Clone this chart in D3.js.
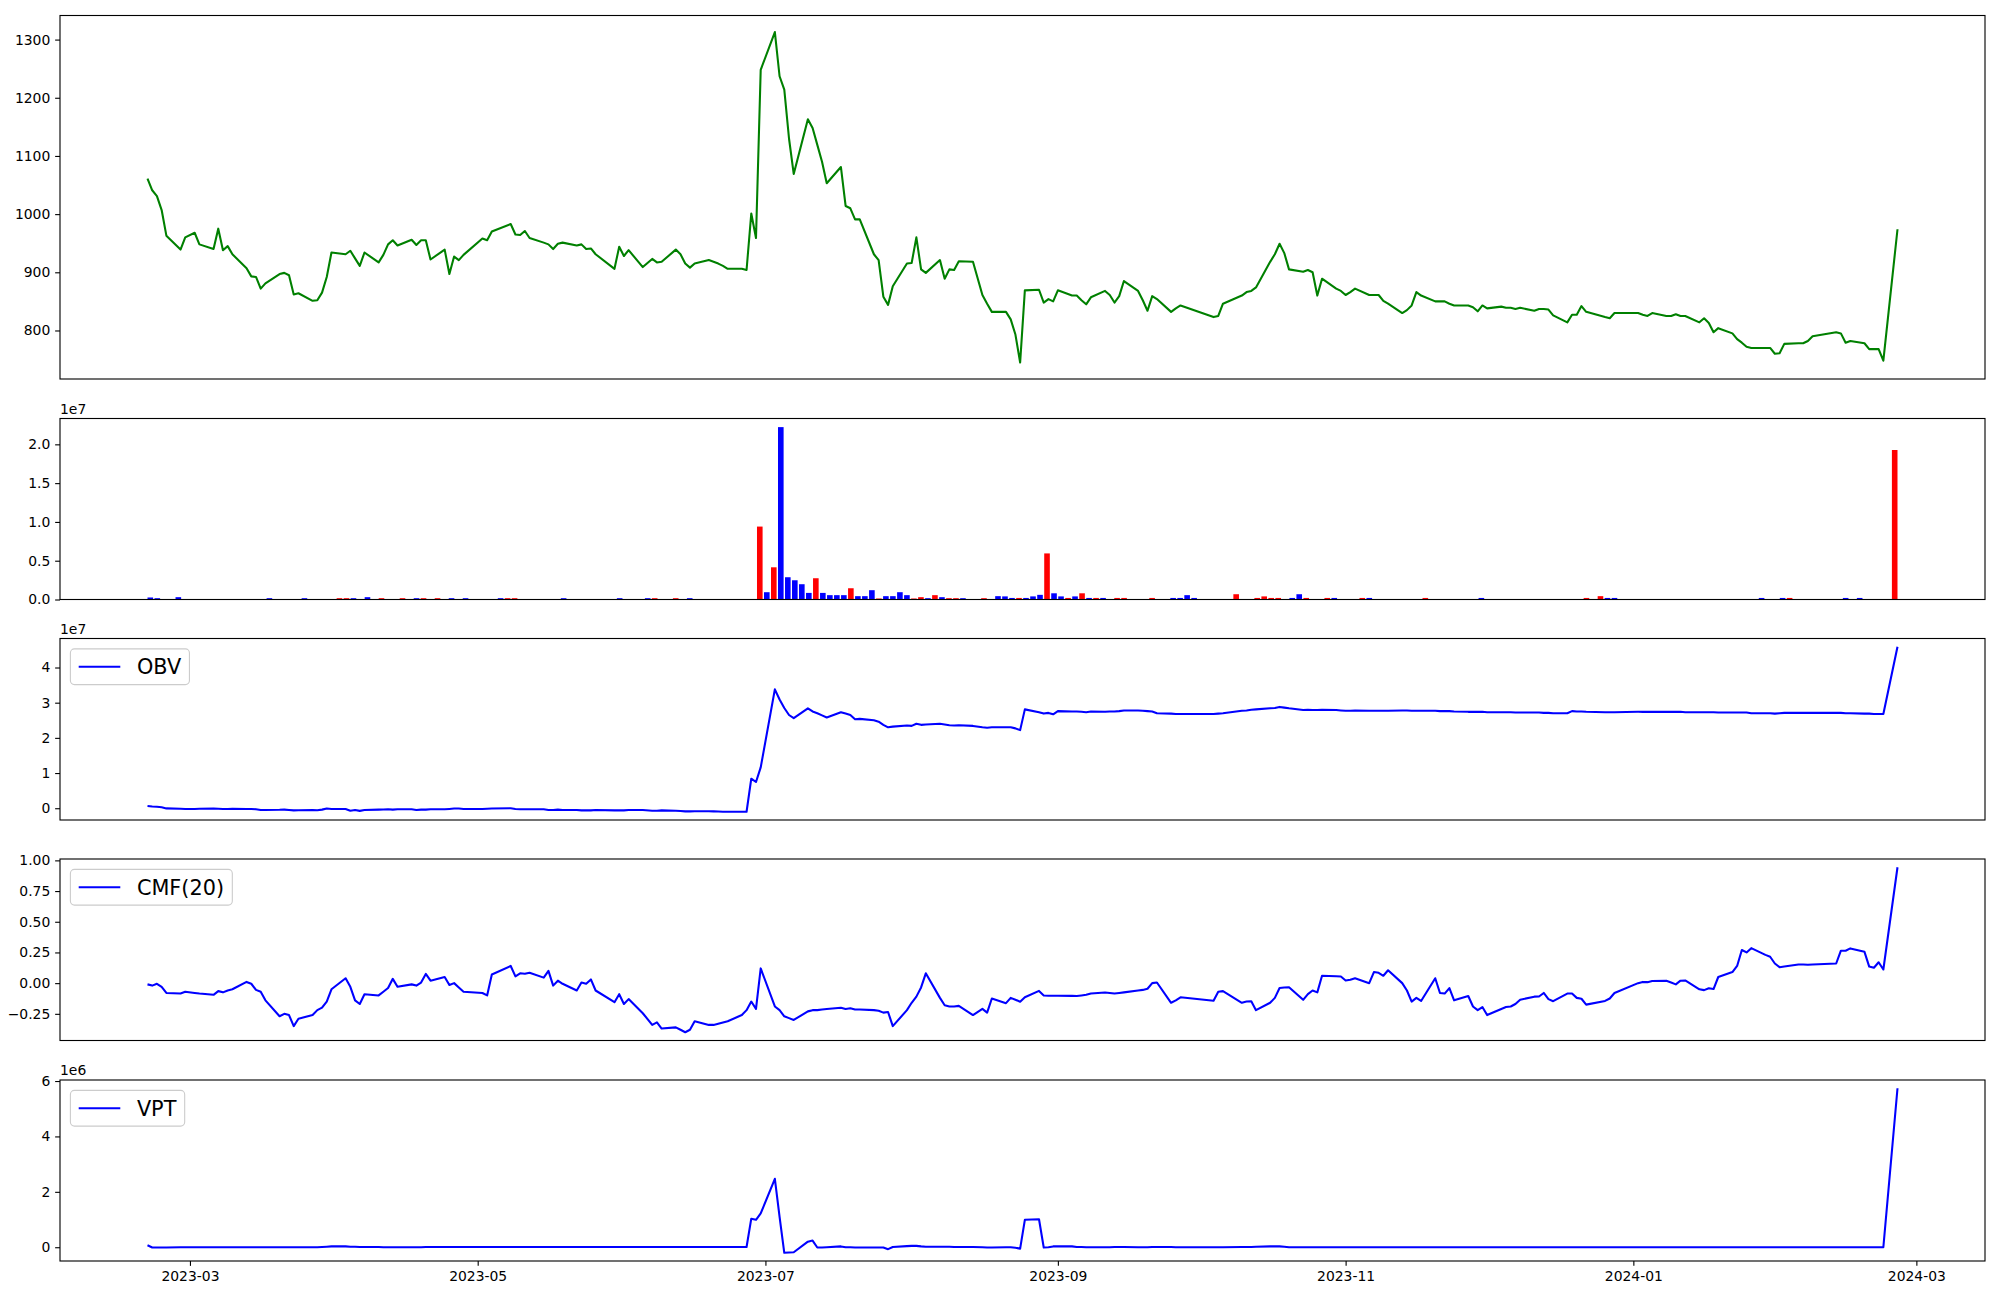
<!DOCTYPE html>
<html><head><meta charset="utf-8">
<script src="https://cdn.jsdelivr.net/npm/d3@7"></script>
<style>
body{margin:0;background:#fff}
svg{display:block}
text{font-family:"DejaVu Sans",sans-serif;fill:#000}
</style></head>
<body><svg id="chart" width="2000" height="1300"></svg>
<script>
// ---------------- DATA ----------------
const startDay = "2023-02-20";
const endDay = "2024-02-26";
const holidays = ["2023-03-01","2023-05-01","2023-05-05","2023-05-29","2023-06-06","2023-08-15",
  "2023-09-28","2023-09-29","2023-10-02","2023-10-03","2023-10-09","2023-12-25","2023-12-29",
  "2024-01-01","2024-02-09","2024-02-12"];

const price = [
1061,1041,1031,1007,963,939,960,968,948,940,
975,938,945,931,907,893,892,872,881,897,
899,895,862,864,851,852,865,892,934,931,
937,924,911,934,917,930,948,955,946,956,
947,955,955,922,939,897,927,921,930,958,
955,970,983,965,964,971,959,951,948,940,
949,951,946,948,940,941,931,906,944,928,
938,909,923,917,918,939,931,915,908,915,
921,918,915,911,906,906,904,1001,959,1248,
1313,1237,1214,1130,1069,1163,1148,1119,1090,1053,
1081,1014,1010,991,991,931,921,858,844,876,
915,916,960,905,899,921,889,905,904,919,
918,861,846,832,832,819,793,745,869,870,
848,854,850,869,860,860,852,845,857,868,
861,848,859,885,868,852,834,859,854,832,
838,843,823,825,846,860,866,868,874,918,
931,949,933,905,901,904,900,860,889,872,
868,861,866,872,861,861,861,851,846,830,
835,843,866,860,850,850,850,846,843,843,
840,833,843,838,841,839,839,837,839,834,
837,837,836,826,814,827,827,842,832,823,
821,830,830,827,825,830,825,825,828,825,
825,814,821,813,797,804,795,785,779,772,
770,770,770,760,761,777,778,778,782,790,
797,795,779,782,778,768,768,768,748,974];

const volume = [
260000,170000,0,0,300000,0,0,0,0,0,
0,0,0,0,0,0,0,170000,0,0,
0,0,170000,0,0,0,0,170000,170000,170000,
0,300000,0,170000,0,0,170000,0,170000,170000,
0,170000,0,170000,0,170000,0,0,0,0,
170000,170000,170000,0,0,0,0,0,0,170000,
0,0,0,0,0,0,0,170000,0,0,
0,170000,170000,0,0,170000,0,170000,0,0,
0,0,0,0,0,0,0,9400000,940000,4150000,
22220000,2870000,2480000,1970000,850000,2740000,850000,560000,560000,560000,
1450000,430000,430000,1200000,130000,430000,430000,940000,560000,130000,
300000,170000,560000,300000,170000,170000,170000,0,0,170000,
0,430000,400000,200000,200000,200000,400000,600000,5940000,800000,
400000,200000,400000,800000,200000,200000,200000,0,200000,200000,
0,0,0,200000,0,0,200000,200000,560000,200000,
0,0,0,0,0,680000,0,0,200000,400000,
200000,200000,0,200000,680000,200000,0,0,200000,200000,
0,0,0,200000,200000,0,0,0,0,0,
0,0,200000,0,0,0,0,0,0,0,
200000,0,0,0,0,0,0,0,0,0,
0,0,0,0,0,200000,0,430000,200000,200000,
0,0,0,0,0,0,0,0,0,0,
0,0,0,0,0,0,0,0,0,0,
200000,0,0,200000,200000,0,0,0,0,0,
0,0,200000,0,200000,0,0,0,0,19270000];

// 1 = red (up) bar, 0 = blue (down) bar
const barUp = [
0,0,0,0,0,0,0,0,0,0, 0,0,0,0,0,0,0,0,0,0, 0,0,0,0,0,0,0,1,1,0, 0,0,0,1,0,0,1,0,0,1,
0,1,0,0,0,0,0,0,0,0, 0,1,1,0,0,0,0,0,0,0, 0,0,0,0,0,0,0,0,0,0, 0,0,1,0,0,1,0,0,0,0,
0,0,0,0,0,0,0,1,0,1, 0,0,0,0,0,1,0,0,0,0, 1,0,0,0,1,0,0,0,0,1, 1,0,1,0,1,1,0,0,0,1,
0,0,0,0,1,0,0,0,1,0, 0,1,0,1,0,1,0,0,1,1, 0,0,0,1,0,0,0,0,0,0, 0,0,0,0,0,1,0,0,1,1,
1,1,0,0,0,1,0,0,1,0, 0,0,0,1,0,0,0,0,0,0, 0,0,1,0,0,0,0,0,0,0, 0,0,0,0,0,0,0,0,0,0,
0,0,0,0,0,1,0,1,0,0, 0,0,0,0,0,0,0,0,0,0, 0,0,0,0,0,0,0,0,0,0, 0,0,0,0,1,0,0,0,0,0,
0,0,0,0,0,0,0,0,0,1];

// OBV in units of 1e7
const obvE7 = [
0.066,0.05,0.04,0.03,-0.005,-0.015,-0.02,-0.02,-0.015,-0.01,
-0.015,-0.02,-0.02,-0.015,-0.02,-0.02,-0.03,-0.05,-0.05,-0.045,
-0.04,-0.05,-0.06,-0.055,-0.05,-0.055,-0.04,-0.01,-0.02,-0.02,
-0.07,-0.05,-0.075,-0.05,-0.04,-0.035,-0.03,-0.04,-0.03,-0.03,
-0.05,-0.04,-0.04,-0.03,-0.03,-0.02,-0.01,-0.01,-0.02,-0.02,
-0.015,-0.01,0.0,-0.02,-0.03,-0.03,-0.03,-0.03,-0.05,-0.05,
-0.04,-0.05,-0.05,-0.06,-0.06,-0.06,-0.05,-0.06,-0.06,-0.06,
-0.05,-0.05,-0.07,-0.07,-0.06,-0.07,-0.08,-0.09,-0.09,-0.085,
-0.085,-0.09,-0.095,-0.10,-0.10,-0.10,-0.10,0.84,0.746,1.16,
3.38,3.09,2.85,2.65,2.56,2.84,2.75,2.70,2.64,2.58,
2.73,2.69,2.65,2.53,2.54,2.50,2.46,2.37,2.30,2.32,
2.35,2.34,2.40,2.37,2.38,2.40,2.38,2.36,2.35,2.36,
2.34,2.30,2.29,2.30,2.30,2.30,2.27,2.22,2.81,2.73,
2.69,2.71,2.67,2.76,2.75,2.75,2.74,2.73,2.75,2.74,
2.75,2.75,2.76,2.78,2.78,2.77,2.76,2.75,2.70,2.69,
2.68,2.68,2.68,2.69,2.70,2.77,2.78,2.80,2.81,2.84,
2.85,2.88,2.86,2.84,2.79,2.80,2.79,2.79,2.80,2.79,
2.78,2.77,2.77,2.78,2.77,2.77,2.77,2.77,2.77,2.78,
2.78,2.77,2.77,2.77,2.77,2.76,2.76,2.76,2.75,2.74,
2.74,2.74,2.74,2.73,2.73,2.73,2.73,2.72,2.72,2.72,
2.72,2.71,2.71,2.70,2.70,2.76,2.75,2.75,2.74,2.73,
2.73,2.73,2.74,2.74,2.74,2.74,2.74,2.74,2.74,2.74,
2.73,2.73,2.73,2.73,2.73,2.72,2.72,2.72,2.72,2.72,
2.70,2.70,2.70,2.69,2.70,2.71,2.71,2.71,2.71,2.71,
2.71,2.71,2.70,2.70,2.69,2.69,2.68,2.68,2.68,4.59];

const cmf20 = [
-0.01,-0.02,-0.005,-0.03,-0.08,-0.085,-0.07,-0.08,-0.085,-0.095,
-0.065,-0.075,-0.06,-0.05,0.01,-0.005,-0.055,-0.07,-0.14,-0.27,
-0.25,-0.26,-0.35,-0.29,-0.26,-0.22,-0.2,-0.15,-0.05,0.04,
-0.03,-0.14,-0.17,-0.09,-0.1,-0.07,-0.04,0.035,-0.03,-0.01,
-0.02,0.005,0.075,0.02,0.05,-0.015,0.0,-0.035,-0.07,-0.08,
-0.1,0.07,0.14,0.055,0.08,0.076,0.085,0.045,0.1,-0.02,
0.02,-0.005,-0.06,0.005,-0.005,0.03,-0.06,-0.155,-0.09,-0.17,
-0.13,-0.245,-0.34,-0.32,-0.37,-0.36,-0.38,-0.4,-0.38,-0.31,
-0.34,-0.34,-0.33,-0.32,-0.31,-0.26,-0.22,-0.15,-0.21,0.12,
-0.19,-0.22,-0.27,-0.285,-0.3,-0.23,-0.22,-0.22,-0.215,-0.21,
-0.2,-0.21,-0.205,-0.215,-0.215,-0.22,-0.225,-0.24,-0.235,-0.35,
-0.22,-0.16,-0.11,-0.035,0.08,-0.12,-0.18,-0.19,-0.19,-0.185,
-0.26,-0.21,-0.24,-0.125,-0.163,-0.12,-0.135,-0.152,-0.115,-0.063,
-0.1,-0.103,-0.103,-0.103,-0.104,-0.105,-0.1,-0.095,-0.085,-0.076,
-0.08,-0.085,-0.08,-0.075,-0.06,-0.055,-0.046,0.0,0.005,-0.16,
-0.14,-0.115,-0.144,-0.07,-0.065,-0.16,-0.15,-0.148,-0.22,-0.16,
-0.12,-0.04,-0.035,-0.033,-0.136,-0.09,-0.06,-0.075,0.06,0.056,
0.054,0.022,0.027,0.04,0.0,0.09,0.084,0.06,0.105,0.0,
-0.06,-0.15,-0.12,-0.145,0.04,-0.08,-0.085,-0.04,-0.14,-0.105,
-0.19,-0.22,-0.195,-0.26,-0.21,-0.195,-0.19,-0.17,-0.135,-0.11,
-0.109,-0.08,-0.13,-0.147,-0.085,-0.085,-0.12,-0.127,-0.175,-0.145,
-0.125,-0.08,0.0,0.01,0.008,0.018,0.019,0.005,-0.01,0.02,
0.022,-0.05,-0.057,-0.041,-0.048,0.05,0.09,0.14,0.27,0.25,
0.285,0.23,0.215,0.16,0.13,0.135,0.152,0.152,0.15,0.152,
0.16,0.264,0.264,0.283,0.255,0.135,0.125,0.17,0.111,0.944];

// VPT in units of 1e6
const vptE6 = [
0.07,-0.01,-0.01,-0.01,-0.01,0,0,0,0,0,
0,0,0,0,0,0,0,0,0,0,
0,0,0,0,0,0,0.01,0.02,0.03,0.03,
0.02,0.02,0.01,0.01,0.01,0,0,0,0,0,
0,0,0.01,0.01,0.01,0.01,0.01,0.01,0.01,0.01,
0.01,0.01,0.01,0.01,0.01,0.01,0.01,0.01,0.01,0.01,
0.01,0.01,0.01,0.01,0.01,0.01,0.01,0.01,0.01,0.01,
0.01,0.01,0.01,0.01,0.01,0.01,0.01,0.01,0.01,0.01,
0.01,0.01,0.01,0.01,0.01,0.01,0.01,1.03,0.99,1.22,
2.47,1.10,-0.20,-0.19,-0.18,0.20,0.24,-0.01,-0.01,0.0,
0.03,0.0,0.0,-0.01,-0.01,-0.01,-0.01,-0.01,-0.07,0.01,
0.04,0.05,0.05,0.03,0.02,0.02,0.02,0.02,0.01,0.01,
0.01,0.0,-0.01,-0.01,0.0,0.0,-0.02,-0.05,0.99,1.01,
-0.01,0.0,0.03,0.03,0.03,0.01,0.01,0.0,0.0,0.0,
0.0,0.01,0.01,0.01,0.0,0.0,0.0,0.01,0.01,0.01,
0.0,0.0,0.0,0.0,0.0,0.01,0.01,0.01,0.02,0.03,
0.03,0.03,0.02,0.0,0.0,0.0,0.0,0.0,0.0,0.0,
0,0,0,0,0,0,0,0,0,0,
0,0,0,0,0,0,0,0,0,0,
0,0,0,0,0,0,0,0,0,0,
0,0,0,0,0,0,0,0,0,0,
0,0,0,0,0,0,0,0,0,0,
0,0,0,0,0,0,0,0,0,0,
0,0,0,0,0,0,0,0,0,0,
0,0,0,0,0,0,0,0,0,5.74];

const xTickLabels = ["2023-03","2023-05","2023-07","2023-09","2023-11","2024-01","2024-03"];
const priceTicks = [800,900,1000,1100,1200,1300];
const volTicks = [0,0.5e7,1e7,1.5e7,2e7];
const obvTicks = [0,1,2,3,4];
const cmfTicks = [-0.25,0,0.25,0.5,0.75,1.0];
const vptTicks = [0,2,4,6];

// ---------------- LAYOUT ----------------
const X0 = 60, X1 = 1985;
const P = {
  price: [15.5, 379],
  vol:   [418.5, 599.5],
  obv:   [638.5, 820],
  cmf:   [859, 1040.5],
  vpt:   [1080, 1261]
};
const FS = 13.9, TICK = 4.86, LW = 2.08, AXW = 1.11, LEGFS = 20.8;
const GREEN = "#008000", BLUE = "#0000ff", RED = "#ff0000";

const svg = d3.select("#chart");
const parse = d3.utcParse("%Y-%m-%d");
const fmt = d3.utcFormat("%Y-%m-%d");

function tradingDays(start, end, hol) {
  const hs = new Set(hol), out = [];
  for (let d = parse(start); d <= parse(end); d = d3.utcDay.offset(d, 1)) {
    const wd = d.getUTCDay();
    if (wd !== 0 && wd !== 6 && !hs.has(fmt(d))) out.push(d);
  }
  return out;
}
const dates = tradingDays(startDay, endDay, holidays);
const N = dates.length;

const t0 = +dates[0], t1 = +dates[N - 1], span = t1 - t0;
const x = d3.scaleUtc().domain([new Date(t0 - 0.05 * span), new Date(t1 + 0.05 * span)]).range([X0, X1]);

const lo = -0.4, hi = N - 1 + 0.4, pr = hi - lo;
const xi = d3.scaleLinear().domain([lo - 0.05 * pr, hi + 0.05 * pr]).range([X0, X1]);

function padded(vals) {
  const [a, b] = d3.extent(vals); const r = b - a;
  return [a - 0.05 * r, b + 0.05 * r];
}

function yAxis(y, ticks, f) {
  const g = svg.append("g").attr("transform", `translate(${X0},0)`)
    .call(d3.axisLeft(y).tickValues(ticks).tickFormat(f).tickSize(TICK).tickPadding(TICK));
  g.select(".domain").remove();
  g.selectAll(".tick line").attr("stroke", "#000").attr("stroke-width", AXW);
  g.selectAll(".tick text").attr("font-size", FS).attr("font-family", "DejaVu Sans").attr("fill", "#000");
  return g;
}
function frame(p) {
  svg.append("rect").attr("x", X0).attr("y", p[0]).attr("width", X1 - X0).attr("height", p[1] - p[0])
    .attr("fill", "none").attr("stroke", "#000").attr("stroke-width", AXW);
}
function offsetText(p, s) {
  svg.append("text").attr("x", X0).attr("y", p[0] - 5).attr("font-size", FS).text(s);
}
function drawLine(vals, y, color) {
  svg.append("path").datum(vals)
    .attr("fill", "none").attr("stroke", color).attr("stroke-width", LW)
    .attr("stroke-linejoin", "round")
    .attr("d", d3.line().x((d, i) => x(dates[i])).y(d => y(d)));
}
function legend(p, label) {
  const g = svg.append("g");
  const bx = X0 + 10.4, by = p[0] + 10.4, pad = 8.3, hl = 41.6, tp = 16.6, bh = 35.7;
  const rect = g.append("rect").attr("x", bx).attr("y", by).attr("height", bh).attr("rx", 4)
    .attr("fill", "#fff").attr("fill-opacity", 0.8).attr("stroke", "#cccccc").attr("stroke-width", AXW);
  const cy = by + bh / 2;
  g.append("line").attr("x1", bx + pad).attr("x2", bx + pad + hl).attr("y1", cy).attr("y2", cy)
    .attr("stroke", BLUE).attr("stroke-width", LW);
  const t = g.append("text").attr("x", bx + pad + hl + tp).attr("y", cy + 7.3)
    .attr("font-size", LEGFS).text(label);
  const tw = t.node().getComputedTextLength();
  rect.attr("width", pad + hl + tp + tw + pad);
}

// ---- Panel 1: price ----
const yP = d3.scaleLinear().domain(padded(price)).range([P.price[1], P.price[0]]);
drawLine(price, yP, GREEN);
yAxis(yP, priceTicks, d => d);
frame(P.price);

// ---- Panel 2: volume (index based) ----
const yV = d3.scaleLinear().domain([0, d3.max(volume) * 1.05]).range([P.vol[1], P.vol[0]]);
svg.append("g").selectAll("rect").data(volume).join("rect")
  .attr("x", (d, i) => xi(i - 0.4))
  .attr("width", (d, i) => xi(i + 0.4) - xi(i - 0.4))
  .attr("y", d => yV(d))
  .attr("height", d => yV(0) - yV(d))
  .attr("fill", (d, i) => barUp[i] ? RED : BLUE);
yAxis(yV, volTicks, d => (d / 1e7).toFixed(1));
frame(P.vol);
offsetText(P.vol, "1e7");

// ---- Panel 3: OBV ----
const yO = d3.scaleLinear().domain(padded(obvE7)).range([P.obv[1], P.obv[0]]);
drawLine(obvE7, yO, BLUE);
yAxis(yO, obvTicks, d => d);
frame(P.obv);
offsetText(P.obv, "1e7");
legend(P.obv, "OBV");

// ---- Panel 4: CMF ----
const yC = d3.scaleLinear().domain(padded(cmf20)).range([P.cmf[1], P.cmf[0]]);
drawLine(cmf20, yC, BLUE);
yAxis(yC, cmfTicks, d => (d < 0 ? "\u2212" : "") + Math.abs(d).toFixed(2));
frame(P.cmf);
legend(P.cmf, "CMF(20)");

// ---- Panel 5: VPT ----
const yT = d3.scaleLinear().domain(padded(vptE6)).range([P.vpt[1], P.vpt[0]]);
drawLine(vptE6, yT, BLUE);
yAxis(yT, vptTicks, d => d);
frame(P.vpt);
offsetText(P.vpt, "1e6");
legend(P.vpt, "VPT");

// x axis
const xTicks = xTickLabels.map(s => parse(s + "-01"));
const gx = svg.append("g").attr("transform", `translate(0,${P.vpt[1]})`)
  .call(d3.axisBottom(x).tickValues(xTicks).tickFormat(d3.utcFormat("%Y-%m")).tickSize(TICK).tickPadding(TICK));
gx.select(".domain").remove();
gx.selectAll(".tick line").attr("stroke", "#000").attr("stroke-width", AXW);
gx.selectAll(".tick text").attr("font-size", FS).attr("font-family", "DejaVu Sans").attr("fill", "#000");
</script>
</body></html>
